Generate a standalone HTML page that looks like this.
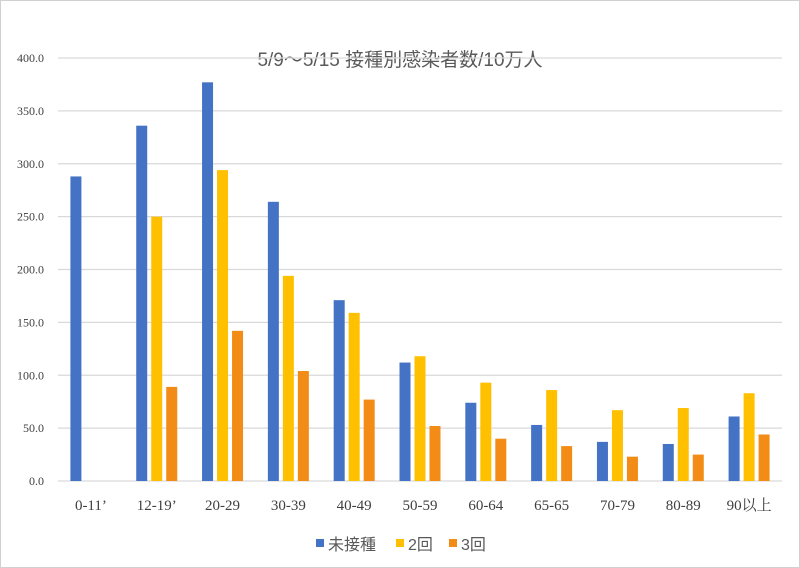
<!DOCTYPE html>
<html><head><meta charset="utf-8"><style>
body{margin:0;background:#fff;}
svg{display:block;font-family:"Liberation Serif","Noto Serif CJK SC",serif;}
</style></head><body>
<svg id="chart" width="800" height="568">
<rect x="0.5" y="0.5" width="799" height="567" fill="#fff" stroke="#d0d0d0"/>
<text x="400" y="66" text-anchor="middle" font-size="19" fill="#595959" font-family="Liberation Sans, Noto Sans CJK JP, sans-serif">5/9～5/15 接種別感染者数/10万人</text>
<g id="grid"></g><g id="bars"></g><g id="xl"></g>
<g font-family="Liberation Sans, Noto Sans CJK JP, sans-serif" font-size="16" fill="#595959">
<rect x="316" y="539" width="8" height="8" fill="#4472c4"/><text x="328" y="550">未接種</text>
<rect x="396" y="539" width="8" height="8" fill="#ffc000"/><text x="408" y="550">2回</text>
<rect x="449" y="539" width="8" height="8" fill="#f28c16"/><text x="461" y="550">3回</text>
</g>
</svg>
<script>
const categories=["0-11’","12-19’","20-29","30-39","40-49","50-59","60-64","65-65","70-79","80-89","90以上"];
const unvaccinated=[288,336,377,264,171,112,74,53,37,35,61];
const dose2=[0,250,294,194,159,118,93,86,67,69,83];
const dose3=[0,89,142,104,77,52,40,33,23,25,44];
const ticks=[0,50,100,150,200,250,300,350,400];
const seriesNames=["unvaccinated","dose2","dose3"];
const colors=["#4472c4","#ffc000","#f28c16"];
const NS="http://www.w3.org/2000/svg";
const x0=58,x1=782,y0=481,y1=58,maxV=400;
const y=v=>y0-(v/maxV)*(y0-y1);
const bw=(x1-x0)/categories.length;
const x=i=>x0+bw*(i+0.5);
const g=document.getElementById('grid'),b=document.getElementById('bars'),xl=document.getElementById('xl');
ticks.forEach(t=>{
 const l=document.createElementNS(NS,'line');
 
 
 l.setAttribute('x1',x0);l.setAttribute('x2',x1);l.setAttribute('y1',y(t));l.setAttribute('y2',y(t));
 l.setAttribute('stroke','#d9d9d9');l.setAttribute('stroke-width','1.3');g.appendChild(l);
 const tx=document.createElementNS(NS,'text');
 
 
 tx.setAttribute('x',44);tx.setAttribute('y',y(t)+4);tx.setAttribute('text-anchor','end');
 tx.setAttribute('font-size','12');tx.setAttribute('fill','#404040');tx.textContent=t.toFixed(1);g.appendChild(tx);
});
const series=[unvaccinated,dose2,dose3];
const w=11,gap=4;
categories.forEach((c,i)=>{
 series.forEach((s,k)=>{
  if(!s[i])return;
  const r=document.createElementNS(NS,'rect');
  
  
  const bx=x(i)-(3*w+2*gap)/2+k*(w+gap);
  r.setAttribute('x',bx);r.setAttribute('width',w);r.setAttribute('y',y(s[i]));r.setAttribute('height',y0-y(s[i]));
  r.setAttribute('fill',colors[k]);b.appendChild(r);
 });
 const t=document.createElementNS(NS,'text');
 
 
 t.setAttribute('x',x(i));t.setAttribute('y',510);t.setAttribute('text-anchor','middle');
 t.setAttribute('font-size','15');t.setAttribute('fill','#404040');t.textContent=c;xl.appendChild(t);
});
</script>
</body></html>
